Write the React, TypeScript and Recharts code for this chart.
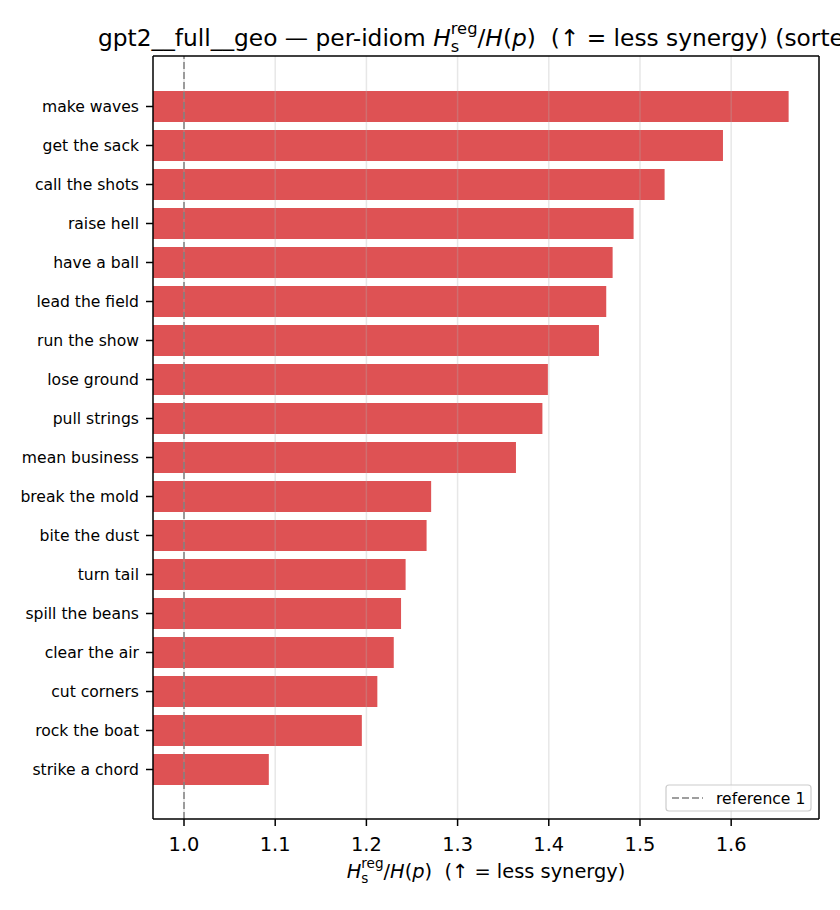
import { BarChart, Bar, XAxis, YAxis, ReferenceLine } from 'recharts';

// per-idiom ratio H_s^reg / H(p), sorted descending (top to bottom)
const idioms = [
  'make waves',
  'get the sack',
  'call the shots',
  'raise hell',
  'have a ball',
  'lead the field',
  'run the show',
  'lose ground',
  'pull strings',
  'mean business',
  'break the mold',
  'bite the dust',
  'turn tail',
  'spill the beans',
  'clear the air',
  'cut corners',
  'rock the boat',
  'strike a chord',
];

const ratios = [
  1.663, 1.591, 1.527, 1.493, 1.470, 1.463, 1.455, 1.399, 1.393,
  1.364, 1.271, 1.266, 1.243, 1.238, 1.230, 1.212, 1.195, 1.093,
];

const xTicks = [1.0, 1.1, 1.2, 1.3, 1.4, 1.5, 1.6];
const xDomain: [number, number] = [0.966, 1.6963];
const referenceValue = 1;

const FONT = 'DejaVu Sans, sans-serif';
const BAR_COLOR = '#de5254';
const SPINE = { stroke: '#000', strokeWidth: 1.5 };

const data = idioms.map((name, i) => ({ name, ratio: ratios[i] }));

// H_s^reg / H(p) in mathtext style
function RatioLabel({ size }: { size: number }) {
  const small = size * 0.7;
  const subDrop = size * 0.25;
  const supRise = size * 0.5;
  return (
    <>
      <tspan fontStyle="italic">H</tspan>
      <tspan fontSize={small} dy={subDrop}>s</tspan>
      <tspan fontSize={small} dx={-small * 0.521} dy={-(subDrop + supRise)}>reg</tspan>
      <tspan dy={supRise}>/</tspan>
      <tspan fontStyle="italic">H</tspan>
      <tspan>(</tspan>
      <tspan fontStyle="italic">p</tspan>
      <tspan>)</tspan>
    </>
  );
}

export default function App() {
  return (
    <div
      style={{
        position: 'absolute',
        left: 0,
        top: 0,
        width: 840,
        height: 910,
        overflow: 'hidden',
        background: '#fff',
        fontFamily: FONT,
      }}
    >
      <BarChart
        width={840}
        height={910}
        data={data}
        layout="vertical"
        margin={{ top: 55, right: 20, bottom: 51, left: 3 }}
      >
        <XAxis
          type="number"
          dataKey="ratio"
          domain={xDomain}
          allowDataOverflow
          ticks={xTicks}
          interval={0}
          tickFormatter={(v: number) => v.toFixed(1)}
          height={40}
          tickSize={7}
          tickMargin={11}
          axisLine={SPINE}
          tickLine={SPINE}
          tick={{ fontSize: 19.4, fill: '#000', fontFamily: FONT }}
        />
        {/* top spine */}
        <XAxis
          xAxisId="top"
          orientation="top"
          type="number"
          domain={xDomain}
          allowDataOverflow
          height={1}
          tick={false}
          tickLine={false}
          axisLine={SPINE}
        />
        <YAxis
          type="category"
          dataKey="name"
          width={150}
          interval={0}
          padding={{ top: 31, bottom: 30 }}
          tickSize={7}
          tickMargin={7}
          axisLine={SPINE}
          tickLine={SPINE}
          tick={{ fontSize: 15.6, fill: '#000', fontFamily: FONT }}
        />
        {/* right spine */}
        <YAxis
          yAxisId="right"
          orientation="right"
          type="category"
          dataKey="name"
          width={1}
          tick={false}
          tickLine={false}
          axisLine={SPINE}
        />
        <Bar dataKey="ratio" fill={BAR_COLOR} barSize={31} isAnimationActive={false} />
        {xTicks.map((t) => (
          <ReferenceLine
            key={t}
            x={t}
            stroke="#b0b0b0"
            strokeOpacity={0.3}
            strokeWidth={1.5}
          />
        ))}
        <ReferenceLine
          x={referenceValue}
          stroke="#7f7f7f"
          strokeWidth={1.5}
          strokeDasharray="7 3"
        />
      </BarChart>

      <svg
        width={840}
        height={910}
        style={{ position: 'absolute', left: 0, top: 0, pointerEvents: 'none' }}
      >
        <text
          x={98}
          y={46}
          fontSize={23.3}
          fill="#000"
          fontFamily={FONT}
          style={{ whiteSpace: 'pre' }}
        >
          <tspan>gpt2__full__geo — per-idiom </tspan>
          <RatioLabel size={23.3} />
          <tspan>{'  (↑ = less synergy) (sorted)'}</tspan>
        </text>

        <text
          x={486}
          y={878}
          fontSize={19.4}
          fill="#000"
          fontFamily={FONT}
          textAnchor="middle"
          style={{ whiteSpace: 'pre' }}
        >
          <RatioLabel size={19.4} />
          <tspan>{'  (↑ = less synergy)'}</tspan>
        </text>

        <g>
          <rect
            x={666}
            y={785}
            width={145}
            height={26}
            rx={3}
            fill="#fff"
            fillOpacity={0.8}
            stroke="#cccccc"
            strokeWidth={1.2}
          />
          <line
            x1={672}
            x2={703}
            y1={798}
            y2={798}
            stroke="#7f7f7f"
            strokeWidth={1.5}
            strokeDasharray="7 3"
          />
          <text x={716} y={803.5} fontSize={15.6} fill="#000" fontFamily={FONT}>
            reference 1
          </text>
        </g>
      </svg>
    </div>
  );
}
